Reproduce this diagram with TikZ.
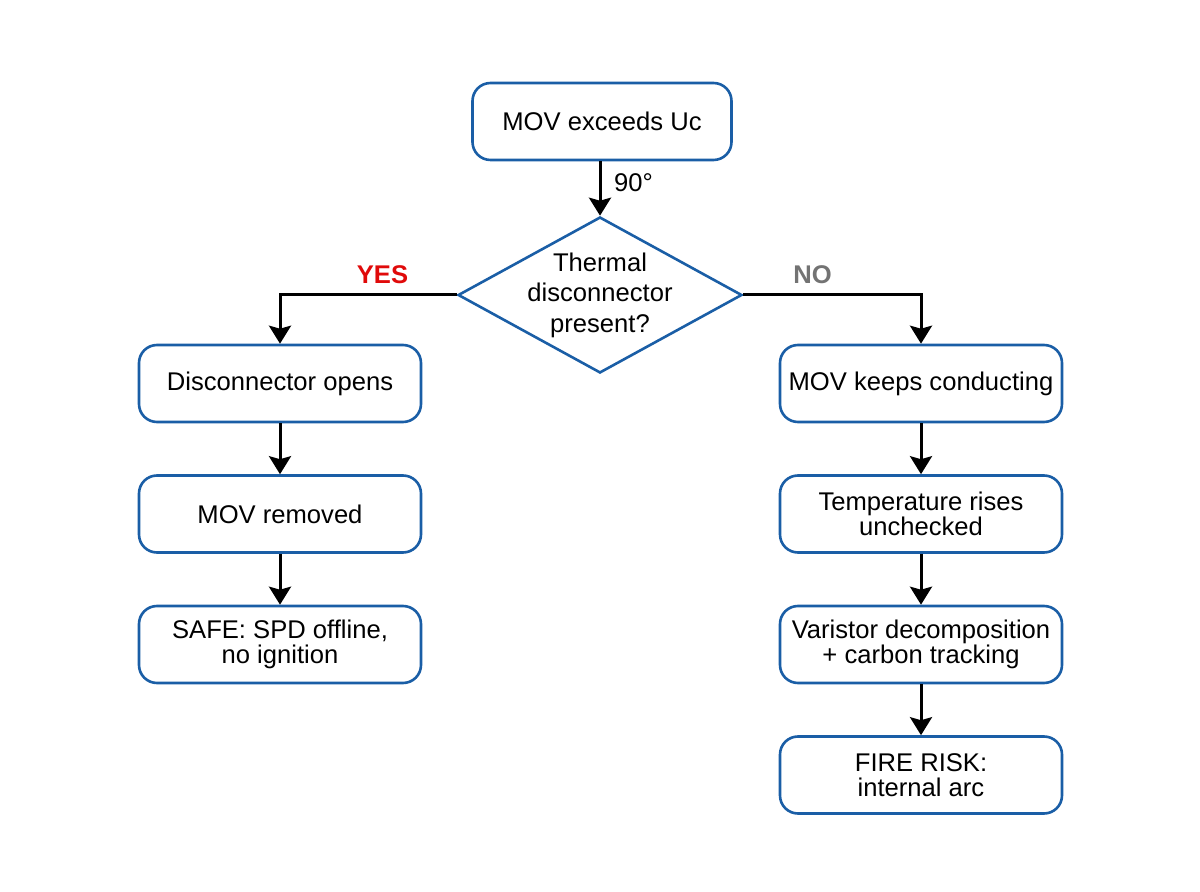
\documentclass[tikz,border=0pt]{standalone}
\usepackage{fontspec}
\setmainfont{Liberation Sans}
\usetikzlibrary{shapes.geometric,arrows.meta}
\definecolor{boxblue}{HTML}{1A5EA6}
\definecolor{yesred}{HTML}{E00A0A}
\definecolor{nogray}{HTML}{737373}
\tikzset{
  stepbox/.style={draw=boxblue, line width=1.3pt, rounded corners=9pt, fill=white,
    minimum width=141pt, minimum height=38.5pt, inner sep=0pt, align=center,
    font=\fontsize{12.8}{12.6}\selectfont},
  decision/.style={draw=boxblue, line width=1.3pt, diamond, aspect=1.82, fill=white,
    minimum width=142pt, minimum height=78pt, inner sep=0pt},
  dectext/.style={align=center, inner sep=0pt, font=\fontsize{12.8}{15.2}\selectfont},
  flow/.style={line width=1.5pt, -{Stealth[width=11pt,length=9pt,inset=1.5pt]}},
  lbl/.style={font=\fontsize{12.8}{12.8}\selectfont\bfseries}
}
\begin{document}
\begin{tikzpicture}[x=0.5pt,y=-0.5pt]
\useasboundingbox (0,0) rectangle (1200,892);
\node[stepbox, minimum width=129.5pt] (start) at (602,121.5) {MOV exceeds Uc};
\node[decision] (dec) at (600,295) {};
\node[dectext] (dectxt) at (dec.center) {Thermal\\disconnector\\present?};
\node[stepbox] (l1) at (280,383.5) {Disconnector opens};
\node[stepbox] (l2) at (280,514) {MOV removed};
\node[stepbox] (l3) at (280,644.5) {SAFE: SPD offline,\\no ignition};
\node[stepbox] (r1) at (921,383.5) {MOV keeps conducting};
\node[stepbox] (r2) at (921,514) {Temperature rises\\unchecked};
\node[stepbox] (r3) at (921,644.5) {Varistor decomposition\\+ carbon tracking};
\node[stepbox] (r4) at (921,775) {FIRE RISK:\\internal arc};
\draw[flow] (start.south -| dec.north) -- node[pos=0.4, right, xshift=3pt, font=\fontsize{12.8}{12.8}\selectfont] (ang) {90°} (dec.north);
\draw[flow] (dec.west) -| node[pos=0.21, above=1.5pt, lbl, text=yesred] (yes) {YES} (l1.north);
\draw[flow] (dec.east) -| node[pos=0.195, above=1.5pt, lbl, text=nogray] (no) {NO} (r1.north);
\draw[flow] (l1) -- (l2);
\draw[flow] (l2) -- (l3);
\draw[flow] (r1) -- (r2);
\draw[flow] (r2) -- (r3);
\draw[flow] (r3) -- (r4);
\end{tikzpicture}
\end{document}
